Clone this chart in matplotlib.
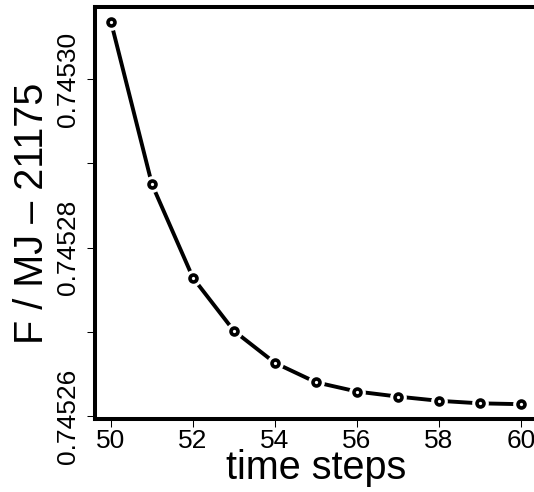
#!/usr/bin/env python3
import matplotlib
matplotlib.use('Agg')
import matplotlib.pyplot as plt

plt.rcParams['font.family'] = ['Liberation Sans', 'DejaVu Sans']

steps = [50, 51, 52, 53, 54, 55, 56, 57, 58, 59, 60]
energy = [0.7453068, 0.7452875, 0.7452764, 0.7452701, 0.7452663, 0.7452640,
          0.7452629, 0.7452623, 0.7452618, 0.7452615, 0.7452614]

xticks = [50, 52, 54, 56, 58, 60]
yticks = [0.74526, 0.74527, 0.74528, 0.74529, 0.74530]
ylabels = ['0.74526', '', '0.74528', '', '0.74530']

fig = plt.figure(figsize=(5.34, 4.92), dpi=100)
ax = fig.add_axes([95 / 534, 1 - 419 / 492, 442 / 534, 412 / 492])

# R style type="b": line with gaps around the points
ax.plot(steps, energy, color='black', lw=2.8, zorder=2, clip_on=False)
ax.plot(steps, energy, ls='none', marker='o', ms=12, mfc='white', mec='none',
        zorder=3, clip_on=False)
ax.plot(steps, energy, ls='none', marker='o', ms=5, mfc='white', mec='black',
        mew=2.6, zorder=4, clip_on=False)

ax.set_xlim(49.61, 60.39)
ax.set_ylim(0.74525964, 0.74530857)
ax.set_xticks(xticks)
ax.set_xticklabels([str(t) for t in xticks])
ax.set_yticks(yticks)
ax.set_yticklabels(ylabels, rotation=90, va='center')

for side in ['left', 'bottom', 'top']:
    ax.spines[side].set_linewidth(2.9)
ax.spines['right'].set_visible(False)
ax.tick_params(direction='out', length=5.8, width=0.75, labelsize=19)
ax.tick_params(axis='x', pad=1.5)
ax.tick_params(axis='y', pad=5)

ax.set_xlabel('time steps', fontsize=28.5)
ax.set_ylabel('F / MJ \u2013 21175', fontsize=28.5)
ax.xaxis.set_label_coords(0.5, -0.072)
ax.yaxis.set_label_coords(-0.099, 0.5)

fig.savefig('out.png', dpi=100)
